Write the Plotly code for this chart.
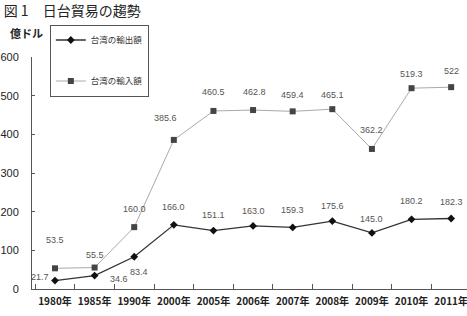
import plotly.graph_objects as go

years = ["1980年", "1985年", "1990年", "2000年", "2005年", "2006年", "2007年",
         "2008年", "2009年", "2010年", "2011年"]
exports = [21.7, 34.6, 83.4, 166.0, 151.1, 163.0, 159.3, 175.6, 145.0, 180.2, 182.3]
imports = [53.5, 55.5, 160.0, 385.6, 460.5, 462.8, 459.4, 465.1, 362.2, 519.3, 522.0]
export_labels = ["21.7", "34.6", "83.4", "166.0", "151.1", "163.0", "159.3", "175.6", "145.0", "180.2", "182.3"]
import_labels = ["53.5", "55.5", "160.0", "385.6", "460.5", "462.8", "459.4", "465.1", "362.2", "519.3", "522"]

# label offsets in pixels (dx, dy)
exp_off = [(-15, 4), (24, -3), (5, -15), (0, 18), (0, 16), (0, 15), (0, 17), (0, 15), (0, 14), (0, 18), (0, 17)]
imp_off = [(0, 28), (0, 13), (0, 18), (-8, 22), (0, 19), (1, 18), (0, 16), (0, 14), (0, 19), (0, 14), (0, 16)]

FONT = "Noto Sans CJK JP"
NUMF = "Liberation Sans"

fig = go.Figure()
fig.add_trace(go.Scatter(
    x=years, y=exports, name="台湾の輸出額", mode="lines+markers",
    line=dict(color="#333333", width=1.3),
    marker=dict(symbol="diamond", size=6, color="#111111"),
    legendgroup="a"))
fig.add_trace(go.Scatter(
    x=years, y=imports, name="台湾の輸入額", mode="lines+markers",
    line=dict(color="#aaaaaa", width=1),
    marker=dict(symbol="square", size=6, color="#444444"),
    legendgroup="b"))

for i, yr in enumerate(years):
    dx, dy = exp_off[i]
    fig.add_annotation(x=i, y=exports[i], text=export_labels[i], showarrow=False,
                       xshift=dx, yshift=dy,
                       font=dict(family=NUMF, size=9, color="#555555"))
    dx, dy = imp_off[i]
    fig.add_annotation(x=i, y=imports[i], text=import_labels[i], showarrow=False,
                       xshift=dx, yshift=dy,
                       font=dict(family=NUMF, size=9, color="#555555"))

fig.add_annotation(xref="paper", yref="paper", x=0.03, y=1.105, xanchor="right",
                   yanchor="middle", text="<b>億ドル</b>", showarrow=False,
                   font=dict(family=FONT, size=11, color="#222222"))

fig.update_layout(
    width=467, height=316,
    margin=dict(l=32, r=0, t=57, b=27),
    paper_bgcolor="white", plot_bgcolor="white",
    title=dict(text="図 1　日台貿易の趨勢", x=0.008, xanchor="left", y=0.98, yanchor="top",
               font=dict(family=FONT, size=14, color="#222222")),
    showlegend=True,
    legend=dict(x=0.041, y=1.14, xanchor="left", yanchor="top",
                bordercolor="#555555", borderwidth=1, bgcolor="white",
                tracegroupgap=22, itemwidth=30,
                font=dict(family=FONT, size=8.5, color="#333333")),
    xaxis=dict(type="category", range=[-0.58, 10.4], showgrid=False,
               showline=True, linecolor="#555555", linewidth=1,
               ticks="inside", tickson="boundaries", ticklen=5, tickcolor="#555555",
               tickangle=0, automargin=False,
               tickfont=dict(family=FONT, size=10, color="#222222", weight="bold"),
               ticklabelstandoff=3),
    yaxis=dict(range=[0, 600], dtick=100, showgrid=False, zeroline=False,
               showline=True, linecolor="#555555", linewidth=1,
               ticks="inside", ticklen=3, tickcolor="#555555", automargin=False,
               tickfont=dict(family=NUMF, size=11, color="#222222"),
               ticklabelstandoff=10),
)

fig.write_html("out.html")
